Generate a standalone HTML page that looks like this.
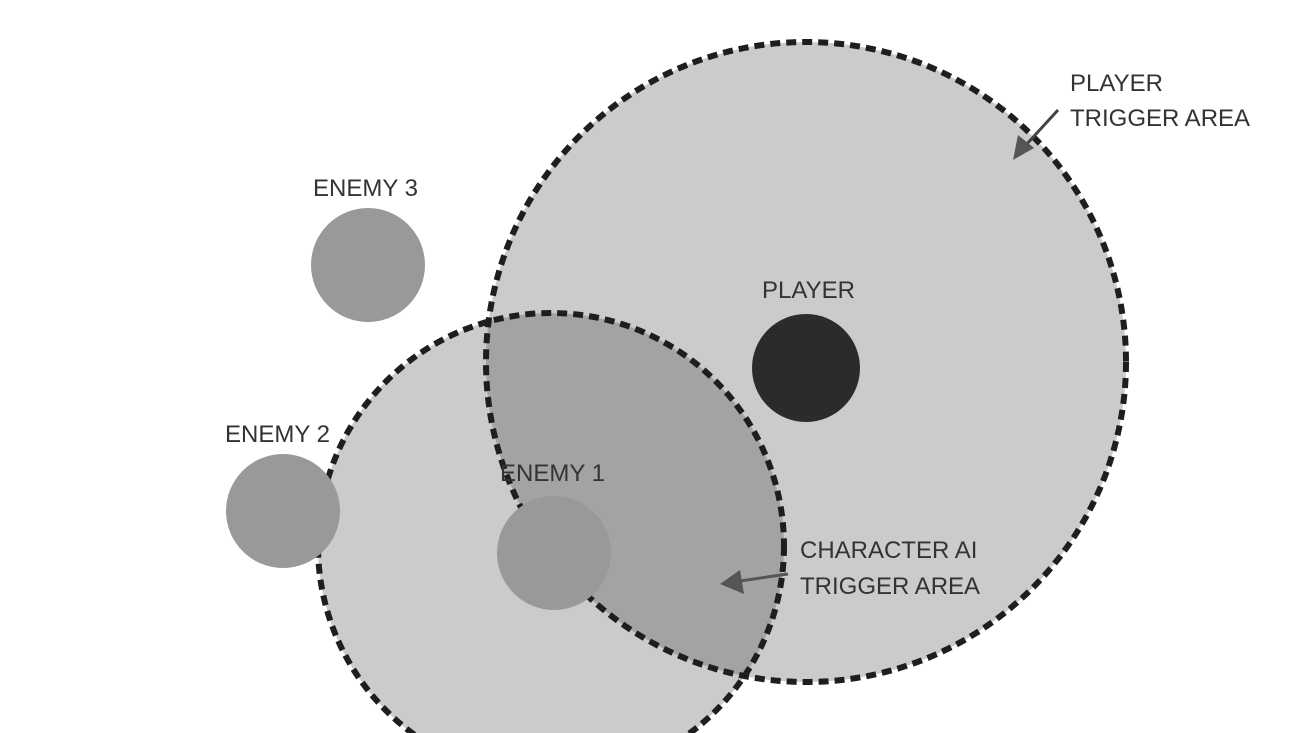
<!DOCTYPE html>
<html><head><style>html,body{margin:0;background:#fff;width:1303px;height:733px;overflow:hidden}svg{display:block}text{font-family:"Liberation Sans",sans-serif;font-size:24px;fill:#333}</style></head><body>
<svg width="1303" height="733" viewBox="0 0 1303 733">
<defs><clipPath id="c"><circle cx="551" cy="546" r="233"/></clipPath></defs>
<circle cx="806" cy="362" r="320" fill="#cbcbcb"/>
<circle cx="551" cy="546" r="233" fill="#cbcbcb"/>
<circle cx="806" cy="362" r="320" fill="#a3a3a3" clip-path="url(#c)"/>
<circle cx="806" cy="362" r="320" fill="none" stroke="#1e1e1e" stroke-width="6" stroke-dasharray="10 6"/>
<circle cx="551" cy="546" r="233" fill="none" stroke="#1e1e1e" stroke-width="6" stroke-dasharray="10 6"/>
<circle cx="368" cy="265" r="57" fill="#999"/>
<circle cx="283" cy="511" r="57" fill="#999"/>
<circle cx="554" cy="553" r="57" fill="#999"/>
<circle cx="806" cy="368" r="54" fill="#2b2b2b"/>
<text x="313" y="196">ENEMY 3</text>
<text x="225" y="442">ENEMY 2</text>
<text x="500" y="481">ENEMY 1</text>
<text x="762" y="298">PLAYER</text>
<text x="1070" y="91">PLAYER</text>
<text x="1070" y="126">TRIGGER AREA</text>
<text x="800" y="558">CHARACTER AI</text>
<text x="800" y="594">TRIGGER AREA</text>
<line x1="1058" y1="110" x2="1025" y2="146" stroke="#444" stroke-width="3"/>
<polygon points="1013,160 1018,135 1034,148" fill="#555"/>
<line x1="788" y1="574" x2="740" y2="581" stroke="#555" stroke-width="3"/>
<polygon points="720,584 740,570 744,594" fill="#555"/>
</svg>
</body></html>
